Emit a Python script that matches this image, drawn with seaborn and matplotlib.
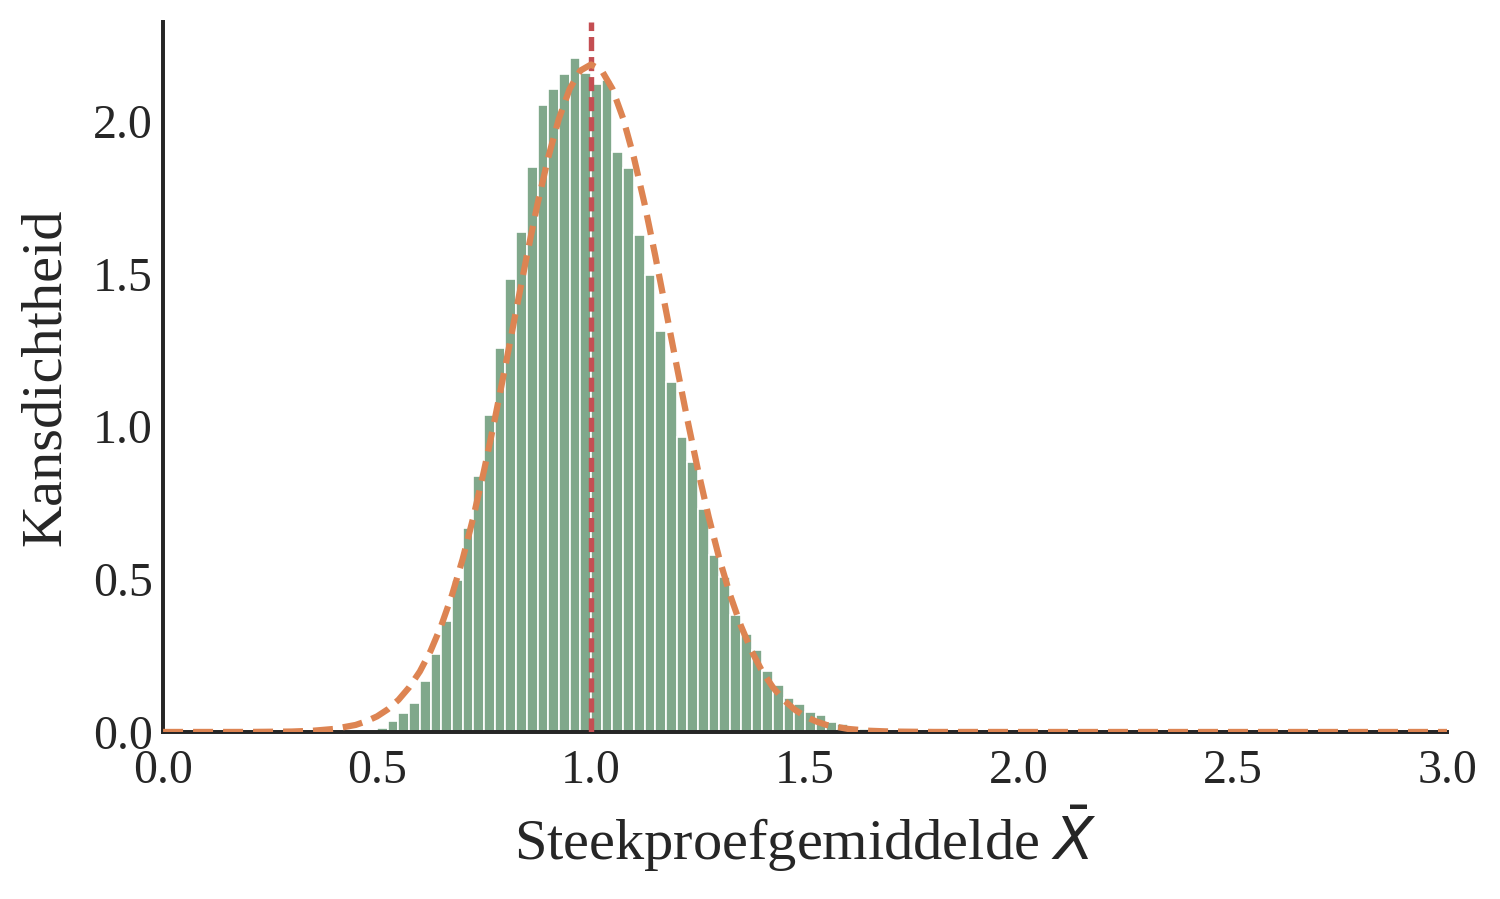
"""
Histogram of sample means with a fitted normal curve (Dutch labels).
"""

import numpy as np
import pandas as pd
import matplotlib
matplotlib.use('Agg')
import matplotlib.pyplot as plt
import seaborn as sns

# Histogram: density per bin, bins of width 0.025 starting at 0.45
bin_start = 0.45
bin_width = 0.025
bin_density = [
    0.001, 0.003, 0.012, 0.036, 0.061, 0.094, 0.167, 0.256, 0.364, 0.498,
    0.667, 0.839, 1.037, 1.256, 1.483, 1.636, 1.848, 2.051, 2.106, 2.153,
    2.206, 2.158, 2.122, 2.133, 1.900, 1.845, 1.627, 1.495, 1.313, 1.147,
    0.966, 0.885, 0.729, 0.580, 0.508, 0.383, 0.320, 0.268, 0.200, 0.154,
    0.110, 0.091, 0.064, 0.054, 0.033, 0.027, 0.017, 0.011, 0.006, 0.004,
    0.002, 0.001,
]

# Normal curve
curve_x = [
    0.0, 0.2, 0.3, 0.35, 0.4, 0.45, 0.475, 0.5, 0.525, 0.55, 0.575, 0.6,
    0.625, 0.65, 0.675, 0.7, 0.725, 0.75, 0.775, 0.8, 0.825, 0.85, 0.875,
    0.9, 0.925, 0.95, 0.975, 1.0, 1.025, 1.05, 1.075, 1.1, 1.125, 1.15,
    1.175, 1.2, 1.225, 1.25, 1.275, 1.3, 1.325, 1.35, 1.375, 1.4, 1.425,
    1.45, 1.475, 1.5, 1.525, 1.55, 1.6, 1.65, 1.7, 1.8, 2.0, 3.0,
]
curve_y = [
    0.0, 0.0001, 0.0014, 0.004, 0.010, 0.023, 0.035, 0.051, 0.074, 0.105,
    0.146, 0.198, 0.265, 0.348, 0.448, 0.566, 0.703, 0.856, 1.023, 1.199,
    1.380, 1.559, 1.729, 1.881, 2.008, 2.105, 2.165, 2.185, 2.165, 2.105,
    2.008, 1.881, 1.729, 1.559, 1.380, 1.199, 1.023, 0.856, 0.703, 0.566,
    0.448, 0.348, 0.265, 0.198, 0.146, 0.105, 0.074, 0.051, 0.035, 0.023,
    0.010, 0.004, 0.0014, 0.0001, 0.0, 0.0,
]

true_mean = 1.0
x_ticks = [0.0, 0.5, 1.0, 1.5, 2.0, 2.5, 3.0]
y_ticks = [0.0, 0.5, 1.0, 1.5, 2.0]

sns.set_theme(style='white')
plt.rcParams['font.family'] = ['Liberation Serif', 'DejaVu Serif']
plt.rcParams['mathtext.fontset'] = 'dejavusans'
text_color = '#262626'

edges = [bin_start + bin_width * i for i in range(len(bin_density) + 1)]
centers = [(edges[i] + edges[i + 1]) / 2 for i in range(len(bin_density))]
hist_df = pd.DataFrame({'x': centers, 'w': bin_density})
curve_df = pd.DataFrame({'x': curve_x, 'y': curve_y})

fig = plt.figure(figsize=(10, 899 / 150), dpi=150)
ax = fig.add_axes([0.1087, 0.1858, 0.856, 0.7897])

sns.histplot(data=hist_df, x='x', weights='w', bins=edges, stat='count',
             color='#80A88B', alpha=1.0, edgecolor='white', linewidth=0.8, ax=ax)
ax.axvline(true_mean, color='#C44E52', linewidth=2.6, linestyle='--',
           dashes=(2.6, 1.1), zorder=2.8)
sns.lineplot(data=curve_df, x='x', y='y', color='#DD8452', linewidth=3.0,
             linestyle='--', ax=ax, sort=False, zorder=3)
ax.lines[-1].set_dashes((3.2, 1.6))

ax.set_xlim(0, 3.0)
ax.set_ylim(0, 2.324)
ax.set_xticks(x_ticks)
ax.set_yticks(y_ticks)
ax.set_xticklabels([f'{t:.1f}' for t in x_ticks])
ax.set_yticklabels([f'{t:.1f}' for t in y_ticks])
ax.tick_params(axis='both', labelsize=23, colors=text_color, length=0)
ax.tick_params(axis='x', pad=8)
ax.tick_params(axis='y', pad=5)

ax.set_xlabel(r'Steekproefgemiddelde $\bar{X}$', fontsize=28, color=text_color, labelpad=5)
ax.set_ylabel('Kansdichtheid', fontsize=28, color=text_color, labelpad=10)

sns.despine(ax=ax)
for side in ['left', 'bottom']:
    ax.spines[side].set_color('#262626')
    ax.spines[side].set_linewidth(1.9)

plt.savefig('out.png', dpi=150)
plt.close()
